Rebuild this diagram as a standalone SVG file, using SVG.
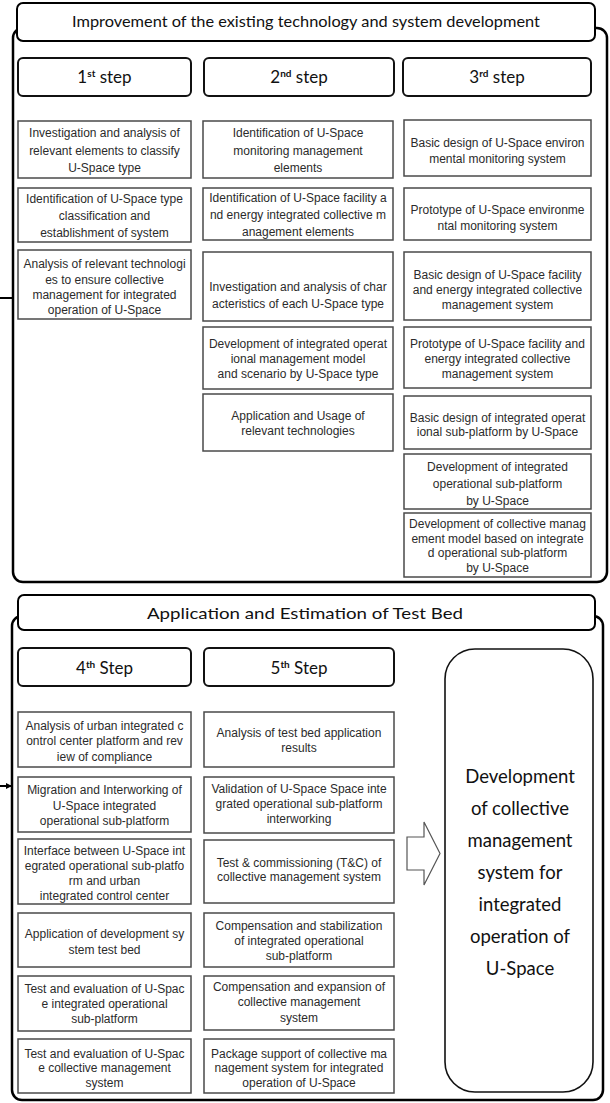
<svg xmlns="http://www.w3.org/2000/svg" width="610" height="1103" viewBox="0 0 610 1103">
<defs>
<style>
.frame{fill:none;stroke:#000;stroke-width:2.5}
.banner{fill:#fff;stroke:#000;stroke-width:2}
.step{fill:#fff;stroke:#111;stroke-width:2}
.box{fill:#fff;stroke:#4a4a4a;stroke-width:1.5}
.bt{font-family:"Liberation Sans",Arial,sans-serif;font-size:12px;fill:#2b2b2b;text-anchor:middle}
.ht{font-family:Lato,"Liberation Sans",sans-serif;font-size:16px;fill:#111;text-anchor:middle}
.st{font-family:Lato,"Liberation Sans",sans-serif;font-size:17px;fill:#111;text-anchor:middle}
.sup{font-size:10px;font-weight:bold}
.big{font-family:Lato,"Liberation Sans",sans-serif;font-size:18.5px;fill:#111;text-anchor:middle}
.conn{stroke:#000;stroke-width:2;fill:none}
.barrow{fill:#fff;stroke:#555;stroke-width:1.2}
</style>
<marker id="ah" markerWidth="6" markerHeight="6" refX="5" refY="3" orient="auto" markerUnits="userSpaceOnUse">
<path d="M0,0 L6,3 L0,6 Z" fill="#000"/>
</marker>
</defs>
<rect width="610" height="1103" fill="#fff"/>

<!-- Top section -->
<g id="frame-top">
<rect class="frame" x="13" y="28" width="594" height="554" rx="10"/>
</g>
<g id="banner-top">
<rect class="banner" x="17" y="3" width="578" height="38" rx="6"/>
<text class="ht" x="306" y="27" textLength="468" lengthAdjust="spacingAndGlyphs">Improvement of the existing technology and system development</text>
</g>
<g id="step1">
<rect class="step" x="18" y="58" width="173" height="38" rx="5"/>
<text class="st" x="104.5" y="83">1<tspan class="sup" dy="-6">st</tspan><tspan dy="6"> step</tspan></text>
</g>
<g id="step2">
<rect class="step" x="204" y="58" width="190" height="38" rx="5"/>
<text class="st" x="299" y="83">2<tspan class="sup" dy="-6">nd</tspan><tspan dy="6"> step</tspan></text>
</g>
<g id="step3">
<rect class="step" x="403" y="58" width="188" height="38" rx="5"/>
<text class="st" x="497" y="83">3<tspan class="sup" dy="-6">rd</tspan><tspan dy="6"> step</tspan></text>
</g>

<!-- Column 1 -->
<g id="c1b1">
<rect class="box" x="18" y="121" width="173" height="57"/>
<text class="bt" x="104.5" y="137">Investigation and analysis of</text>
<text class="bt" x="104.5" y="154.5">relevant elements to classify</text>
<text class="bt" x="104.5" y="172">U-Space type</text>
</g>
<g id="c1b2">
<rect class="box" x="18" y="188" width="173" height="54"/>
<text class="bt" x="104.5" y="203">Identification of U-Space type</text>
<text class="bt" x="104.5" y="220">classification and</text>
<text class="bt" x="104.5" y="237">establishment of system</text>
</g>
<g id="c1b3">
<rect class="box" x="18" y="250" width="173" height="69"/>
<text class="bt" x="104.5" y="268">Analysis of relevant technologi</text>
<text class="bt" x="104.5" y="283.5">es to ensure collective</text>
<text class="bt" x="104.5" y="299">management for integrated</text>
<text class="bt" x="104.5" y="314">operation of U-Space</text>
</g>

<!-- Column 2 -->
<g id="c2b1">
<rect class="box" x="203" y="121" width="190" height="57"/>
<text class="bt" x="298" y="137">Identification of U-Space</text>
<text class="bt" x="298" y="154.5">monitoring management</text>
<text class="bt" x="298" y="172">elements</text>
</g>
<g id="c2b2">
<rect class="box" x="203" y="188" width="190" height="52"/>
<text class="bt" x="298" y="202">Identification of U-Space facility a</text>
<text class="bt" x="298" y="219">nd energy integrated collective m</text>
<text class="bt" x="298" y="236">anagement elements</text>
</g>
<g id="c2b3">
<rect class="box" x="203" y="252" width="190" height="69"/>
<text class="bt" x="298" y="291">Investigation and analysis of char</text>
<text class="bt" x="298" y="307.5">acteristics of each U-Space type</text>
</g>
<g id="c2b4">
<rect class="box" x="203" y="327" width="190" height="62"/>
<text class="bt" x="298" y="348">Development of integrated operat</text>
<text class="bt" x="298" y="362.5">ional management model</text>
<text class="bt" x="298" y="377.5">and scenario by U-Space type</text>
</g>
<g id="c2b5">
<rect class="box" x="203" y="394" width="190" height="57"/>
<text class="bt" x="298" y="420">Application and Usage of</text>
<text class="bt" x="298" y="435">relevant technologies</text>
</g>

<!-- Column 3 -->
<g id="c3b1">
<rect class="box" x="404" y="120" width="187" height="56"/>
<text class="bt" x="497.5" y="146.5">Basic design of U-Space environ</text>
<text class="bt" x="497.5" y="162.5">mental monitoring system</text>
</g>
<g id="c3b2">
<rect class="box" x="404" y="188" width="187" height="52"/>
<text class="bt" x="497.5" y="214">Prototype of U-Space environme</text>
<text class="bt" x="497.5" y="230">ntal monitoring system</text>
</g>
<g id="c3b3">
<rect class="box" x="404" y="252" width="187" height="68"/>
<text class="bt" x="497.5" y="279">Basic design of U-Space facility</text>
<text class="bt" x="497.5" y="294">and energy integrated collective</text>
<text class="bt" x="497.5" y="309">management system</text>
</g>
<g id="c3b4">
<rect class="box" x="404" y="327" width="187" height="61"/>
<text class="bt" x="497.5" y="348">Prototype of U-Space facility and</text>
<text class="bt" x="497.5" y="363">energy integrated collective</text>
<text class="bt" x="497.5" y="378">management system</text>
</g>
<g id="c3b5">
<rect class="box" x="404" y="396" width="187" height="53"/>
<text class="bt" x="497.5" y="421.5">Basic design of integrated operat</text>
<text class="bt" x="497.5" y="435.5">ional sub-platform by U-Space</text>
</g>
<g id="c3b6">
<rect class="box" x="404" y="454" width="187" height="55"/>
<text class="bt" x="497.5" y="470.5">Development of integrated</text>
<text class="bt" x="497.5" y="488">operational sub-platform</text>
<text class="bt" x="497.5" y="505">by U-Space</text>
</g>
<g id="c3b7">
<rect class="box" x="404" y="513" width="187" height="64"/>
<text class="bt" x="497.5" y="528">Development of collective manag</text>
<text class="bt" x="497.5" y="542.5">ement model based on integrate</text>
<text class="bt" x="497.5" y="557">d operational sub-platform</text>
<text class="bt" x="497.5" y="571.5">by U-Space</text>
</g>

<!-- Bottom section -->
<g id="frame-bottom">
<rect class="frame" x="12" y="616" width="591" height="484" rx="10"/>
</g>
<g id="banner-bottom">
<rect class="banner" x="18" y="595" width="577" height="35" rx="6"/>
<text class="ht" x="305" y="618.5" textLength="316" lengthAdjust="spacingAndGlyphs">Application and Estimation of Test Bed</text>
</g>
<g id="step4">
<rect class="step" x="18" y="648" width="173" height="38" rx="5"/>
<text class="st" x="104.5" y="674">4<tspan class="sup" dy="-6">th</tspan><tspan dy="6"> Step</tspan></text>
</g>
<g id="step5">
<rect class="step" x="204" y="648" width="190" height="38" rx="5"/>
<text class="st" x="299" y="674">5<tspan class="sup" dy="-6">th</tspan><tspan dy="6"> Step</tspan></text>
</g>

<!-- Column 4 -->
<g id="c4b1">
<rect class="box" x="18" y="712" width="173" height="55"/>
<text class="bt" x="104.5" y="729.5">Analysis of urban integrated c</text>
<text class="bt" x="104.5" y="745">ontrol center platform and rev</text>
<text class="bt" x="104.5" y="760.5">iew of compliance</text>
</g>
<g id="c4b2">
<rect class="box" x="18" y="777" width="173" height="55"/>
<text class="bt" x="104.5" y="794">Migration and Interworking of</text>
<text class="bt" x="104.5" y="809.5">U-Space integrated</text>
<text class="bt" x="104.5" y="825">operational sub-platform</text>
</g>
<g id="c4b3">
<rect class="box" x="18" y="839" width="173" height="65"/>
<text class="bt" x="104.5" y="854.5">Interface between U-Space int</text>
<text class="bt" x="104.5" y="869.5">egrated operational sub-platfo</text>
<text class="bt" x="104.5" y="884.5">rm and urban</text>
<text class="bt" x="104.5" y="899.5">integrated control center</text>
</g>
<g id="c4b4">
<rect class="box" x="18" y="913" width="173" height="54"/>
<text class="bt" x="104.5" y="938">Application of development sy</text>
<text class="bt" x="104.5" y="953.5">stem test bed</text>
</g>
<g id="c4b5">
<rect class="box" x="18" y="976" width="173" height="55"/>
<text class="bt" x="104.5" y="993">Test and evaluation of U-Spac</text>
<text class="bt" x="104.5" y="1008">e integrated operational</text>
<text class="bt" x="104.5" y="1023">sub-platform</text>
</g>
<g id="c4b6">
<rect class="box" x="18" y="1039" width="173" height="54"/>
<text class="bt" x="104.5" y="1058">Test and evaluation of U-Spac</text>
<text class="bt" x="104.5" y="1072">e collective management</text>
<text class="bt" x="104.5" y="1087">system</text>
</g>

<!-- Column 5 -->
<g id="c5b1">
<rect class="box" x="204" y="712" width="190" height="55"/>
<text class="bt" x="299" y="736.5">Analysis of test bed application</text>
<text class="bt" x="299" y="751.5">results</text>
</g>
<g id="c5b2">
<rect class="box" x="204" y="777" width="190" height="56"/>
<text class="bt" x="299" y="792.5">Validation of U-Space Space inte</text>
<text class="bt" x="299" y="807.5">grated operational sub-platform</text>
<text class="bt" x="299" y="822.5">interworking</text>
</g>
<g id="c5b3">
<rect class="box" x="204" y="840" width="190" height="63"/>
<text class="bt" x="299" y="867">Test &amp; commissioning (T&amp;C) of</text>
<text class="bt" x="299" y="881">collective management system</text>
</g>
<g id="c5b4">
<rect class="box" x="204" y="913" width="190" height="54"/>
<text class="bt" x="299" y="929.5">Compensation and stabilization</text>
<text class="bt" x="299" y="944.5">of integrated operational</text>
<text class="bt" x="299" y="959.5">sub-platform</text>
</g>
<g id="c5b5">
<rect class="box" x="204" y="976" width="190" height="54"/>
<text class="bt" x="299" y="991">Compensation and expansion of</text>
<text class="bt" x="299" y="1006">collective management</text>
<text class="bt" x="299" y="1021.5">system</text>
</g>
<g id="c5b6">
<rect class="box" x="204" y="1039" width="190" height="54"/>
<text class="bt" x="299" y="1058">Package support of collective ma</text>
<text class="bt" x="299" y="1072">nagement system for integrated</text>
<text class="bt" x="299" y="1087">operation of U-Space</text>
</g>

<g id="result-arrow">
<path class="barrow" d="M407,837 L424,837 L424,822 L440,853.5 L424,885 L424,870 L407,870 Z"/>
</g>
<g id="result">
<rect x="445" y="649" width="148" height="443" rx="30" fill="#fff" stroke="#111" stroke-width="1.6"/>
<text class="big" x="520" y="783">Development</text>
<text class="big" x="520" y="815">of collective</text>
<text class="big" x="520" y="847">management</text>
<text class="big" x="520" y="879">system for</text>
<text class="big" x="520" y="911">integrated</text>
<text class="big" x="520" y="943">operation of</text>
<text class="big" x="520" y="975">U-Space</text>
</g>

<g id="connectors">
<line class="conn" x1="0" y1="298" x2="13" y2="298"/>
<line class="conn" x1="0" y1="786" x2="11" y2="786" marker-end="url(#ah)"/>
</g>
</svg>
